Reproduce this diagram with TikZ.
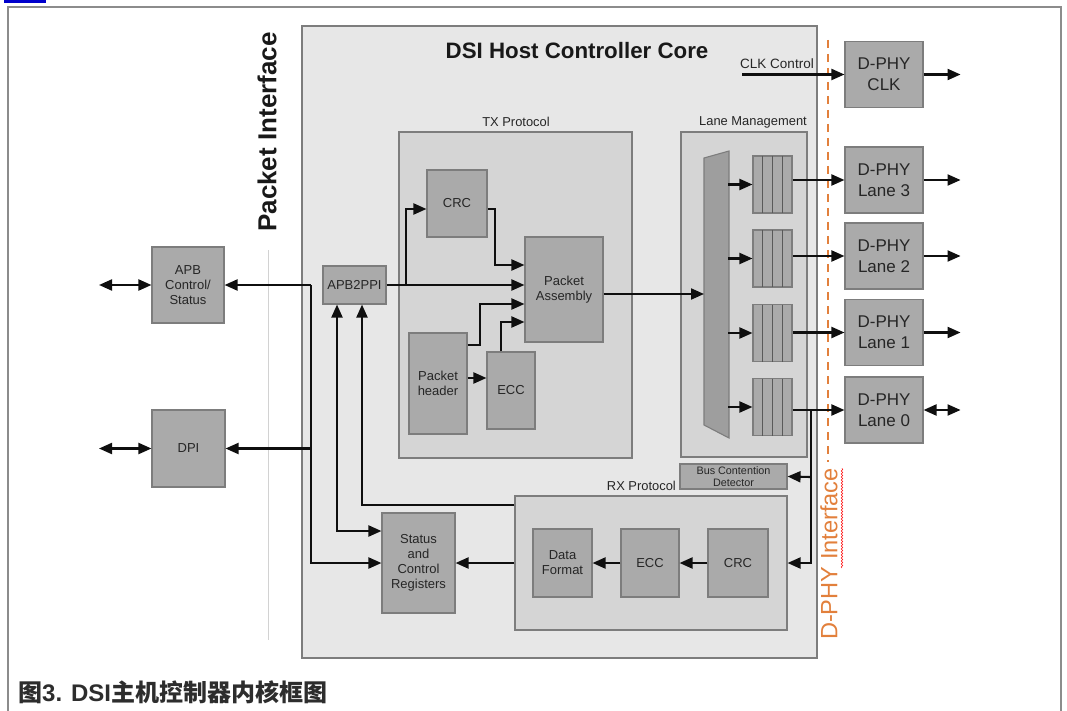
\documentclass[tikz,border=0pt]{standalone}
\usepackage{fontspec}
\setmainfont{Liberation Sans}
\newfontfamily\cjk{Noto Sans CJK SC}
\usetikzlibrary{arrows.meta,decorations.pathmorphing}
\definecolor{corefill}{RGB}{231,231,231}
\definecolor{subfill}{RGB}{213,213,213}
\definecolor{blkfill}{RGB}{170,170,170}
\definecolor{edge}{RGB}{125,125,125}
\definecolor{orng}{RGB}{226,128,60}
\definecolor{framec}{RGB}{140,140,140}
\definecolor{capc}{RGB}{45,45,45}
\definecolor{wirec}{RGB}{15,15,15}
\tikzset{
  blk/.style={draw=edge, fill=blkfill, line width=1.1pt, inner sep=0pt, align=center, text=black!85, font=\fontsize{13}{15}\selectfont},
  phy/.style={blk, minimum width=78pt, minimum height=66pt, font=\fontsize{17}{21}\selectfont},
  grp/.style={draw=edge, fill=subfill, line width=1.1pt, inner sep=0pt},
  fifo/.style={draw=edge, fill=blkfill, line width=1.1pt, inner sep=0pt, minimum width=39pt, minimum height=57pt},
  lbl/.style={font=\fontsize{12.9}{15}\selectfont, text=black!85, inner sep=0pt},
  arr/.style={draw=wirec, line width=2.1pt, -{Triangle[length=13pt,width=11pt,fill=wirec]}},
  darr/.style={draw=wirec, line width=2.1pt, {Triangle[length=13pt,width=11pt,fill=wirec]}-{Triangle[length=13pt,width=11pt,fill=wirec]}},
}
\begin{document}
\begin{tikzpicture}[x=1pt,y=-1pt]
\useasboundingbox (0,0) rectangle (1067,711);
% page frame and cut-off link
\fill[blue!80!black] (4,0) rectangle (46,3);
\draw[framec, line width=1.3pt] (8,711) -- (8,7) -- (1061,7) -- (1061,711);
% core
\node[draw=edge, fill=corefill, line width=1.1pt, minimum width=515pt, minimum height=632pt, inner sep=0pt] (core) at (559.5,342) {};
\node[font=\bfseries\fontsize{22.3}{26}\selectfont, text=black!90, inner sep=0pt] (title) at (577,51) {DSI Host Controller Core};
% interface labels
\node[font=\bfseries\fontsize{26}{28}\selectfont, text=black!90, rotate=90, inner sep=0pt] (pif) at (267,132) {Packet Interface};
\draw[gray!35, line width=1pt] (268,250) -- (268,640);
\draw[orng, line width=1.3pt, dash pattern=on 8pt off 6pt] (828,40) -- (828,462);
\node[font=\fontsize{23.6}{26}\selectfont, text=orng, rotate=90, inner sep=0pt] (dif) at (829,554) {D-PHY Interface};
\draw[red, line width=0.5pt, decorate, decoration={snake, amplitude=0.8pt, segment length=3pt}] (842,568) -- (842,468);
% groups
\node[grp, minimum width=233pt, minimum height=326pt] (tx) at (515.5,295) {};
\node[lbl] (txl) at (516,122) {TX Protocol};
\node[grp, minimum width=126pt, minimum height=325pt] (lane) at (744,294.5) {};
\node[lbl] (lanel) at (753,122) {Lane Management};
\node[grp, minimum width=272pt, minimum height=134pt] (rx) at (651,563) {};
\node[lbl, anchor=east] (rxl) at (676,486) {RX Protocol};
% TX blocks
\node[blk, minimum width=60pt, minimum height=67pt] (crct) at (457,203.5) {CRC};
\node[blk, minimum width=78pt, minimum height=105pt] (pa) at (564,289.5) {Packet\\Assembly};
\node[blk, minimum width=58pt, minimum height=101pt] (ph) at (438,383.5) {Packet\\header};
\node[blk, minimum width=48pt, minimum height=77pt] (ecct) at (511,390.5) {ECC};
\node[blk, minimum width=63pt, minimum height=38pt] (a2p) at (354.5,285) {APB2PPI};
% left blocks
\node[blk, minimum width=72pt, minimum height=76pt] (apb) at (188,285) {APB\\Control/\\Status};
\node[blk, minimum width=73pt, minimum height=77pt] (dpi) at (188.5,448.5) {DPI};
\node[blk, minimum width=73pt, minimum height=100pt] (scr) at (418.5,563) {Status\\and\\Control\\Registers};
% RX blocks
\node[blk, minimum width=59pt, minimum height=68pt] (df) at (562.5,563) {Data\\Format};
\node[blk, minimum width=58pt, minimum height=68pt] (eccr) at (650,563) {ECC};
\node[blk, minimum width=60pt, minimum height=68pt] (crcr) at (738,563) {CRC};
\node[blk, minimum width=107pt, minimum height=25pt, font=\fontsize{10.8}{12.5}\selectfont] (bcd) at (733.5,476.5) {Bus Contention\\Detector};
% D-PHY blocks
\node[phy] (clk) at (884,74.5) {D-PHY\\CLK};
\node[phy] (l3) at (884,180) {D-PHY\\Lane 3};
\node[phy] (l2) at (884,256) {D-PHY\\Lane 2};
\node[phy] (l1) at (884,332.5) {D-PHY\\Lane 1};
\node[phy] (l0) at (884,410) {D-PHY\\Lane 0};
% lane mux
\draw[draw=edge, fill=blkfill!93!black, line width=1.1pt] (704,158) -- (729,151) -- (729,438) -- (704,425) -- cycle;
\coordinate (muxin) at (704,294);
% FIFOs
\foreach \n/\y in {f3/184.5, f2/258.5, f1/333, f0/407} {
  \node[fifo] (\n) at (772.5,\y) {};
  \foreach \dx in {-9.75,0,9.75}
    \draw[black!65, line width=0.9pt] (772.5+\dx,\y-28.5) -- (772.5+\dx,\y+28.5);
  \draw[arr] (\n.west) ++(-24,0) -- (\n.west);
}
% TX wiring
\draw[arr] (a2p.east) -- (a2p.east -| pa.west);
\coordinate (br) at (406,285);
\draw[arr] (br) |- (crct.west |- 0,209);
\draw[arr] (crct.east |- 0,209) -- (495,209) |- (pa.west |- 0,265);
\draw[arr] (ph.east |- 0,345) -- (480,345) |- (pa.west |- 0,304);
\draw[arr] (ecct.north -| 501,0) |- (pa.west |- 0,322);
\draw[arr] (ph.east |- 0,378) -- (ecct.west |- 0,378);
\draw[arr] (pa.east |- muxin) -- (muxin);
% lanes to D-PHY
\draw[arr] (f3.east |- l3.west) -- (l3.west);
\draw[arr] (f2.east |- l2.west) -- (l2.west);
\draw[arr] (f1.east |- l1.west) -- (l1.west);
\draw[arr] (f0.east |- l0.west) -- (l0.west);
\coordinate (clkin) at (742,74.5);
\node[font=\fontsize{13.5}{16}\selectfont, text=black!85, inner sep=0pt] (clkl) at (777,64) {CLK Control};
\draw[arr] (clkin) -- (clk.west);
% D-PHY outputs
\draw[arr] (clk.east) -- ++(37,0);
\draw[arr] (l3.east) -- ++(37,0);
\draw[arr] (l2.east) -- ++(37,0);
\draw[arr] (l1.east) -- ++(37,0);
\draw[darr] (l0.east) -- ++(37,0);
% RX side
\coordinate (j0) at (811,409);
\draw[arr] (j0) |- (rx.east |- 0,563);
\draw[arr] (811,477) -- (bcd.east);
\draw[arr] (crcr.west) -- (eccr.east);
\draw[arr] (eccr.west) -- (df.east);
\draw[arr] (rx.west |- scr.east) -- (scr.east);
% left bus
\draw[darr] (99,285) -- (apb.west);
\draw[darr] (99,448.5) -- (dpi.west);
\coordinate (bus) at (311,285);
\draw[arr] (bus) -- (apb.east);
\draw[arr] (311,448.5) -- (dpi.east);
\draw[arr] (bus) |- (scr.west);
\draw[darr] (a2p.south -| 337,0) |- (scr.west |- 0,531);
\draw[arr] (rx.west |- 0,505) -| (a2p.south -| 362,0);
% caption
\node[anchor=base west, text=capc, font=\bfseries\fontsize{24}{28}\selectfont, inner sep=0pt] (cap) at (18,701) {{\cjk 图}3. DSI{\cjk 主机控制器内核框图}};
\end{tikzpicture}
\end{document}
